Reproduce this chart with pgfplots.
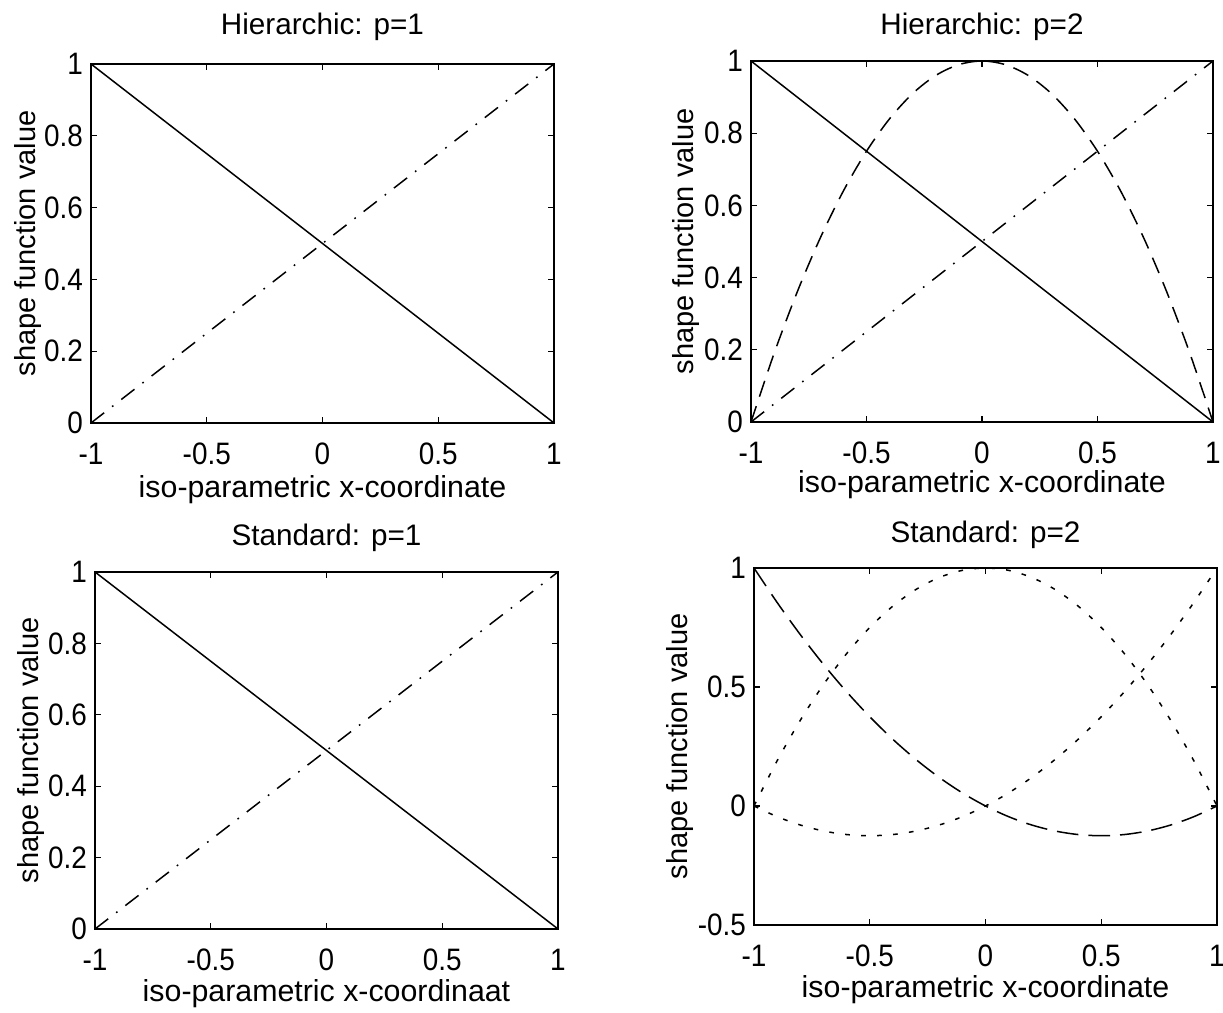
\documentclass[border=0pt]{standalone}
\usepackage{fontspec}
\setmainfont{Liberation Sans}
\newfontfamily\tickfont[FakeStretch=0.9]{Liberation Sans}
\usepackage{pgfplots}
\usepackage{pgfplotstable}
\pgfplotsset{compat=1.18}

% shape functions sampled on [-1,1]
\pgfplotstableread{
x     N1    N2    B     Sa      Sb
-1.0  1.00  0.00  0.00  1.000   0.000
-0.9  0.95  0.05  0.19  0.855  -0.045
-0.8  0.90  0.10  0.36  0.720  -0.080
-0.7  0.85  0.15  0.51  0.595  -0.105
-0.6  0.80  0.20  0.64  0.480  -0.120
-0.5  0.75  0.25  0.75  0.375  -0.125
-0.4  0.70  0.30  0.84  0.280  -0.120
-0.3  0.65  0.35  0.91  0.195  -0.105
-0.2  0.60  0.40  0.96  0.120  -0.080
-0.1  0.55  0.45  0.99  0.055  -0.045
 0.0  0.50  0.50  1.00  0.000   0.000
 0.1  0.45  0.55  0.99 -0.045   0.055
 0.2  0.40  0.60  0.96 -0.080   0.120
 0.3  0.35  0.65  0.91 -0.105   0.195
 0.4  0.30  0.70  0.84 -0.120   0.280
 0.5  0.25  0.75  0.75 -0.125   0.375
 0.6  0.20  0.80  0.64 -0.120   0.480
 0.7  0.15  0.85  0.51 -0.105   0.595
 0.8  0.10  0.90  0.36 -0.080   0.720
 0.9  0.05  0.95  0.19 -0.045   0.855
 1.0  0.00  1.00  0.00  0.000   1.000
}\shapes

\pgfplotsset{
  mat/.style={
    scale only axis, anchor=south west,
    axis line style={line width=0.6pt},
    xmin=-1, xmax=1,
    xtick={-1,-0.5,0,0.5,1}, xticklabels={-1,-0.5,0,0.5,1},
    tick align=inside, xtick pos=both, ytick pos=both,
    major tick length=1.8pt,
    tick style={line width=0.4pt, black},
    tick label style={font=\tickfont\fontsize{9.3}{11}\selectfont},
    xticklabel style={anchor=center, yshift=-9.3pt},
    yticklabel style={anchor=east, inner sep=2.2pt},
    xlabel style={font=\fontsize{9.1}{11}\selectfont, anchor=center},
    ylabel style={font=\fontsize{8.7}{10}\selectfont, anchor=center},
    every axis title/.style={font=\fontsize{8.9}{10}\selectfont, anchor=center},
  },
  lin/.style={mat, ymin=0, ymax=1, ytick={0,0.2,0.4,0.6,0.8,1},
    yticklabels={0,0.2,0.4,0.6,0.8,1}},
  solidline/.style={black, solid, line width=0.45pt},
  dashdot/.style={black, line width=0.45pt, dash pattern=on 5pt off 3pt on 0.5pt off 3pt},
  longdash/.style={black, line width=0.45pt, dash pattern=on 5pt off 3pt},
  longerdash/.style={black, line width=0.45pt, dash pattern=on 6.5pt off 3pt},
  shortdot/.style={black, line width=0.45pt, dash pattern=on 1.4pt off 3.4pt},
}

\begin{document}
\begin{tikzpicture}
\useasboundingbox (0,0) rectangle (366.9pt,303.9pt);

% Hierarchic p=1
\begin{axis}[lin, at={(27.3pt,177pt)}, width=138.9pt, height=107.7pt,
  title={Hierarchic: p=1}, title style={at={(0.5,1.103)}},
  xlabel={iso-parametric x-coordinate},
  xlabel style={at={(axis description cs:0.5,-0.185)}},
  ylabel={shape function value},
  ylabel style={at={(axis description cs:-0.137,0.5)}}]
\addplot[solidline] table[x=x, y=N1] {\shapes};
\addplot[dashdot] table[x=x, y=N2] {\shapes};
\end{axis}

% Hierarchic p=2
\begin{axis}[lin, at={(225.3pt,177.3pt)}, width=138.6pt, height=108.3pt,
  title={Hierarchic: p=2}, title style={at={(0.5,1.094)}},
  xlabel={iso-parametric x-coordinate},
  xlabel style={at={(axis description cs:0.5,-0.174)}},
  ylabel={shape function value},
  ylabel style={at={(axis description cs:-0.141,0.5)}}]
\addplot[solidline] table[x=x, y=N1] {\shapes};
\addplot[dashdot] table[x=x, y=N2] {\shapes};
\addplot[longdash, smooth] table[x=x, y=B] {\shapes};
\end{axis}

% Standard p=1
\begin{axis}[lin, at={(28.5pt,25.2pt)}, width=138.9pt, height=107.1pt,
  title={Standard: p=1}, title style={at={(0.5,1.095)}},
  xlabel={iso-parametric x-coordinaat},
  xlabel style={at={(axis description cs:0.5,-0.182)}},
  ylabel={shape function value},
  ylabel style={at={(axis description cs:-0.139,0.5)}}]
\addplot[solidline] table[x=x, y=N1] {\shapes};
\addplot[dashdot] table[x=x, y=N2] {\shapes};
\end{axis}

% Standard p=2
\begin{axis}[mat, at={(226.2pt,26.4pt)}, width=138.9pt, height=107.1pt,
  ymin=-0.5, ymax=1, ytick={-0.5,0,0.5,1}, yticklabels={-0.5,0,0.5,1},
  title={Standard: p=2}, title style={at={(0.5,1.092)}},
  xlabel={iso-parametric x-coordinate},
  xlabel style={at={(axis description cs:0.5,-0.182)}},
  ylabel={shape function value},
  ylabel style={at={(axis description cs:-0.160,0.5)}}]
\addplot[longerdash, smooth] table[x=x, y=Sa] {\shapes};
\addplot[shortdot, smooth] table[x=x, y=Sb] {\shapes};
\addplot[shortdot, smooth] table[x=x, y=B] {\shapes};
\end{axis}
\end{tikzpicture}
\end{document}
